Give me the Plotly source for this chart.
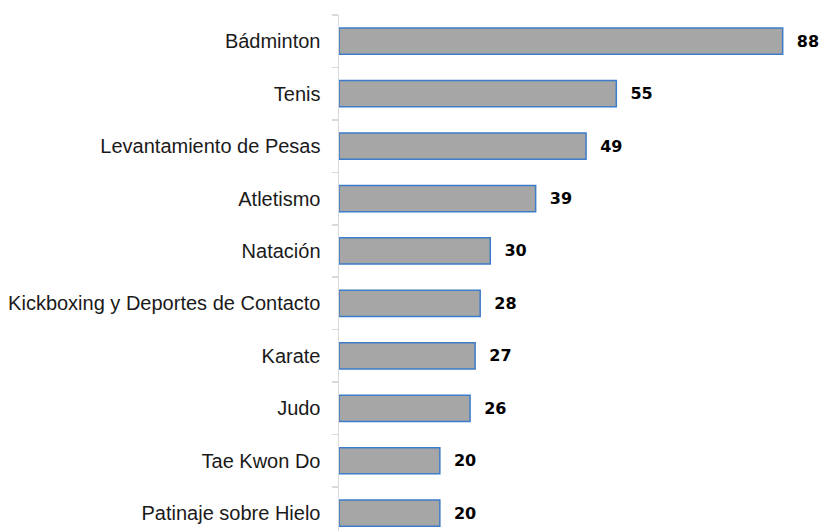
import plotly.graph_objects as go

categories = ["Bádminton", "Tenis", "Levantamiento de Pesas", "Atletismo", "Natación",
              "Kickboxing y Deportes de Contacto", "Karate", "Judo", "Tae Kwon Do",
              "Patinaje sobre Hielo"]
values = [88, 55, 49, 39, 30, 28, 27, 26, 20, 20]

W, H = 820, 531
left = 339          # axis x
top = 15            # first category boundary
px_per_unit = 5.045
xmax = 95
plot_w = xmax * px_per_unit
right = W - left - plot_w
plot_h = H - top
bottom_val = -0.5 + plot_h / 52.44

fig = go.Figure()
fig.add_trace(go.Bar(
    y=categories, x=values, orientation="h",
    marker=dict(color="#a6a6a6", line=dict(color="#3d7cc9", width=1.5)),
    text=values, texttemplate="  %{x}", textposition="outside",
    textfont=dict(family="DejaVu Sans", size=16, color="#000000", weight="bold"),
    cliponaxis=False, hoverinfo="skip",
))

fig.update_layout(
    width=W, height=H,
    margin=dict(l=left, r=right, t=top, b=0, autoexpand=False),
    plot_bgcolor="white", paper_bgcolor="white",
    bargap=0.5, showlegend=False,
    font=dict(family="Liberation Sans, Arial", size=20, color="#1a1a1a"),
)
fig.update_xaxes(range=[0, xmax], visible=False, showgrid=False)
fig.update_yaxes(
    type="category", categoryorder="array", categoryarray=categories,
    range=[bottom_val, -0.5], automargin=False,
    showline=True, linecolor="#d9d9d9", linewidth=1.5,
    ticks="outside", tickson="boundaries", ticklen=6, tickcolor="#d9d9d9", tickwidth=1.5,
    showgrid=False, ticklabelstandoff=13,
    tickfont=dict(family="Liberation Sans, Arial", size=20, color="#1a1a1a"),
)
fig.write_html("out.html",
               config={"displayModeBar": False, "staticPlot": True},
               post_script="document.body.style.margin='0';document.body.style.overflow='hidden';")
